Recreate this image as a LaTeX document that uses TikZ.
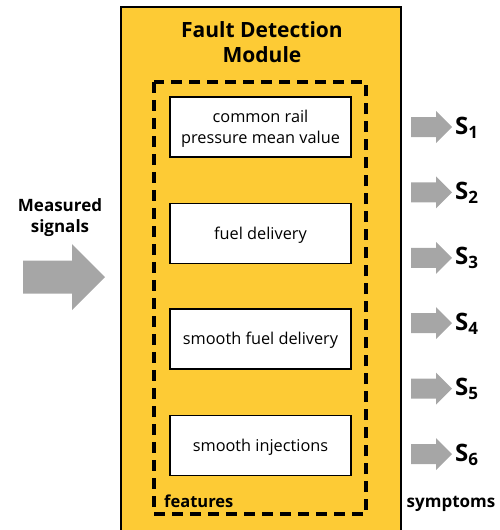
\documentclass[tikz,border=0pt]{standalone}
\usepackage{fontspec}
\setmainfont{Open Sans}
\begin{document}
\begin{tikzpicture}[x=1pt,y=-1pt,
  yellowbg/.style={fill=modyellow,draw=black,line width=2.5pt},
  dashbox/.style={draw=black,line width=3.5pt,dash pattern=on 11pt off 7pt},
  featbox/.style={draw=black,fill=white,line width=1.6pt,minimum width=181pt,minimum height=60pt,inner sep=0pt},
  boxtext/.style={inner sep=0pt,align=center,font=\fontsize{16.3}{21}\selectfont},
  boldlabel/.style={font=\bfseries\fontsize{17}{21}\selectfont,align=center,inner sep=0pt},
  slabel/.style={anchor=base west,inner sep=0pt,font=\bfseries\fontsize{24}{24}\selectfont},
  pics/smallarrow/.style={code={\fill[arrowgray] (0,-10) -- (25,-10) -- (25,-16) -- (41,0) -- (25,16) -- (25,10) -- (0,10) -- cycle;}}
]
\definecolor{modyellow}{RGB}{253,203,53}
\definecolor{arrowgray}{RGB}{166,166,166}
\useasboundingbox (0,0) rectangle (499,530);
% outer module
\path[yellowbg] (121,7) rectangle (401,540);
\node[inner sep=0pt,align=center,font=\bfseries\fontsize{21}{25}\selectfont] (title) at (262,42.5) {Fault Detection\\Module};
% dashed feature region
\draw[dashbox] (154,82) rectangle (366,514);
\node[featbox] (b1) at (260.5,127) {};
\node[featbox] (b2) at (260.5,233.5) {};
\node[featbox] (b3) at (260.5,339) {};
\node[featbox] (b4) at (260.5,445.5) {};
\node[boxtext] (t1) at ([yshift=-1.5pt]b1.center) {common rail\\pressure mean value};
\node[boxtext] (t2) at ([yshift=-1.5pt]b2.center) {fuel delivery};
\node[boxtext] (t3) at ([yshift=-1.5pt]b3.center) {smooth fuel delivery};
\node[boxtext] (t4) at ([yshift=-1.5pt]b4.center) {smooth injections};
\node[anchor=base west,inner sep=0pt,font=\bfseries\fontsize{16.5}{20}\selectfont] (feat) at (164,507) {features};
% input
\node[boldlabel] (meas) at (60,218) {Measured\\signals};
\fill[arrowgray] (23,260.5) -- (72,260.5) -- (72,244) -- (105,277) -- (72,310) -- (72,293.5) -- (23,293.5) -- cycle;
% outputs
\foreach \i/\y in {1/127,2/192.4,3/257.8,4/323.2,5/388.6,6/454}{
  \pic at (411,\y) {smallarrow};
  \node[slabel] (s\i) at (455,\y+7) {S\raisebox{-4pt}{\fontsize{17}{17}\selectfont\i}};
}
\node[anchor=base,inner sep=0pt,font=\bfseries\fontsize{17}{20}\selectfont] (sym) at (451,507) {symptoms};
\end{tikzpicture}
\end{document}
